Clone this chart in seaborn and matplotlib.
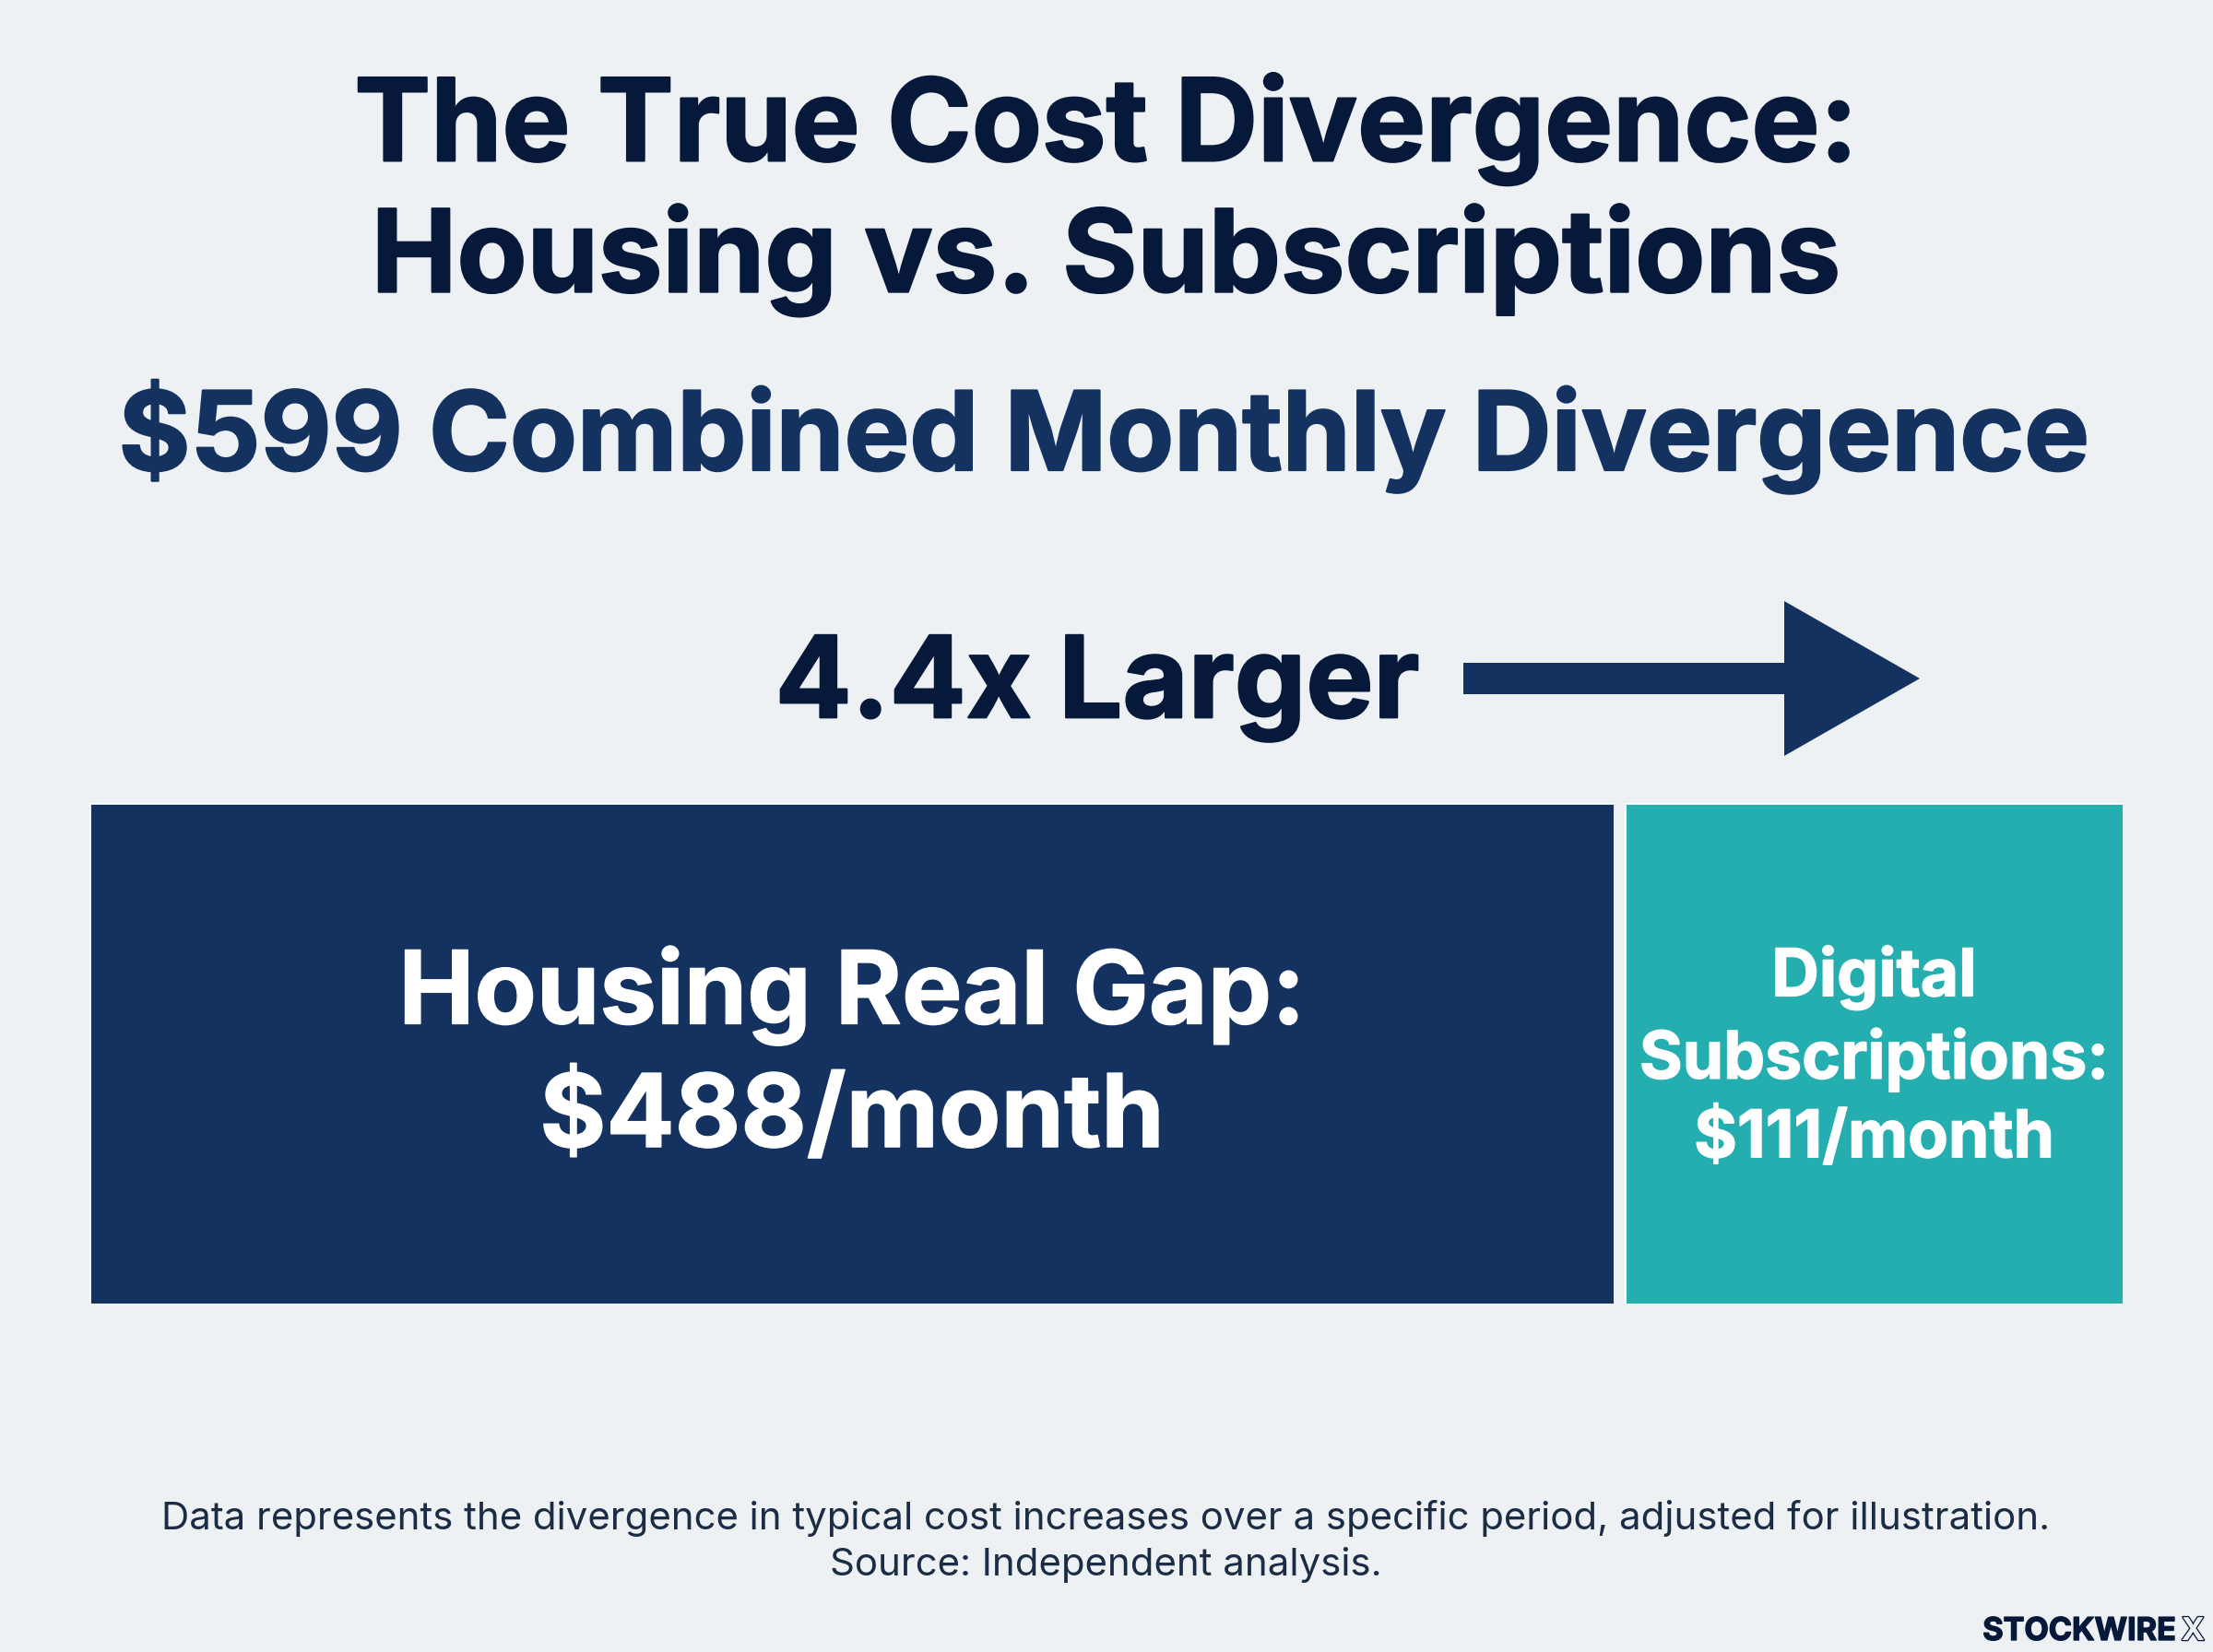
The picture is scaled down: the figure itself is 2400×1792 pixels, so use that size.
import matplotlib
matplotlib.use("Agg")
import matplotlib.pyplot as plt
import matplotlib.patheffects as pe
import seaborn as sns

categories = ["Housing Real Gap", "Digital Subscriptions"]
values = [488, 111]
bar_labels = ["Housing Real Gap:\n$488/month", "Digital\nSubscriptions:\n$111/month"]
title = "The True Cost Divergence:\nHousing vs. Subscriptions"
subtitle = "$599 Combined Monthly Divergence"
ratio_label = "4.4x Larger"
footnote = "Data represents the divergence in typical cost increases over a specific period, adjusted for illustration.\nSource: Independent analysis."
colors = ["#143260", "#25AEB0"]

sns.set_theme(style="white")
plt.rcParams["font.family"] = ["Inter", "DejaVu Sans"]

W, H = 2400, 1792
bg = "#EEF1F4"
navy = "#06193A"
fig = plt.figure(figsize=(W / 200, H / 200), dpi=200, facecolor=bg)


def thick(color, lw=0.8):
    # the headline type is a bit heavier than Inter Bold
    return [pe.withStroke(linewidth=lw, foreground=color)]


# each segment gets its own axes, the picture does not draw them to one scale
spans = [(97, 1751), (1762, 2303)]
label_sizes = [39.6, 25.7]
label_spacing = [1.37, 1.33]
label_y = [0.494, 0.492]
for i in range(2):
    left, right = spans[i]
    ax = fig.add_axes([left / W, 1 - 1415 / H, (right - left) / W, (1415 - 871) / H])
    sns.barplot(x=[values[i]], y=[categories[i]], color=colors[i], saturation=1, width=1, ax=ax)
    ax.set_xlim(0, values[i])
    ax.axis("off")
    ax.text(0.5, label_y[i], bar_labels[i], color="white", fontsize=label_sizes[i],
            fontweight="bold", ha="center", va="center", linespacing=label_spacing[i],
            transform=ax.transAxes, path_effects=thick("white", 0.5))

fig.text(1199 / W, 1 - 211 / H, title, color=navy, fontsize=44.7, fontweight="bold",
         ha="center", va="center", linespacing=1.2, path_effects=thick(navy))
fig.text(1197 / W, 1 - 474 / H, subtitle, color=colors[0], fontsize=42.8, fontweight="bold",
         ha="center", va="center", path_effects=thick(colors[0]))
fig.text(1190 / W, 1 - 747 / H, ratio_label, color=navy, fontsize=44.2, fontweight="bold",
         ha="center", va="center", path_effects=thick(navy))

# arrow above the bars
over = fig.add_axes([0, 0, 1, 1], facecolor="none")
over.set_xlim(0, W)
over.set_ylim(H, 0)
over.axis("off")
over.fill([1587, 1935, 1935, 2082, 1935, 1935, 1587],
          [719, 719, 652, 736, 820, 753, 753], color=colors[0], lw=0)

fig.text(1199 / W, 1 - 1672 / H, footnote, color="#1B2C45", fontsize=15.1,
         ha="center", va="center", linespacing=1.37)

fig.text(2360 / W, 1 - 1770 / H, "STOCKWIRE", color=navy, fontsize=12.3, fontweight="bold",
         ha="right", va="center", path_effects=thick(navy, 0.5))
fig.text(2391 / W, 1 - 1770 / H, "X", color=bg, fontsize=12.3, fontweight="bold", ha="right", va="center",
         path_effects=[pe.withStroke(linewidth=0.9, foreground=navy)])

fig.savefig("out.png", dpi=200, facecolor=bg)
